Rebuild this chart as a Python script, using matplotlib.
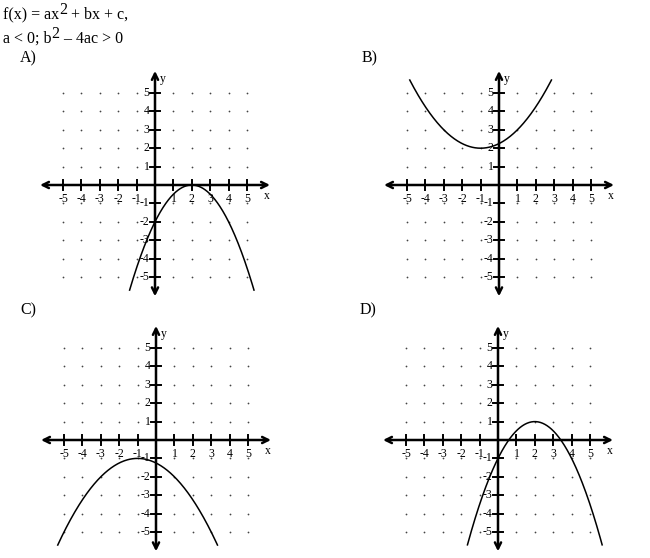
import numpy as np
import matplotlib
matplotlib.use('Agg')
import matplotlib.pyplot as plt

plt.rcParams['font.family'] = ['Liberation Serif', 'DejaVu Serif']

# panel data: parabola y = a*(x - h)^2 + k, drawn between x_start and x_end
panel_names = ['A)', 'B)', 'C)', 'D)']
coef_a = [-0.5, 0.25, -0.25, -0.5]
vertex_h = [2, -1, -1, 2]
vertex_k = [0, 2, -1, 1]
x_start = [-1.38, -4.85, -5.34, -1.66]
x_end = [5.38, 2.85, 3.34, 5.66]
tick_values = [-5, -4, -3, -2, -1, 1, 2, 3, 4, 5]

W, H = 650, 558
unit = 18.4  # pixels per unit
origins = [(155, 185), (499, 185), (156, 440), (498, 440)]
label_pos = [(20, 58), (362, 58), (20, 310), (360, 310)]
xlo, xhi, ylo, yhi = -7.0, 7.0, -6.6, 6.6
RAISE = 3.8  # points, for the superscript 2

fig = plt.figure(figsize=(W / 100, H / 100), dpi=100)


def chain(ax, x, y, parts, size=11.5):
    # draw text pieces one after another; raised pieces act as superscripts
    prev = fig.text(x / W, 1 - y / H, parts[0][0], fontsize=size, va='bottom')
    prev_up = False
    for txt, up in parts[1:]:
        dy = (RAISE if up else 0) - (RAISE if prev_up else 0)
        prev = ax.annotate(txt, xy=(1, 0), xycoords=prev,
                           xytext=(0, dy), textcoords='offset points',
                           fontsize=size, va='bottom', ha='left',
                           annotation_clip=False)
        prev_up = up


for i in range(4):
    ox, oy = origins[i]
    left = ox + xlo * unit
    top = oy - yhi * unit
    w = (xhi - xlo) * unit
    h = (yhi - ylo) * unit
    ax = fig.add_axes([left / W, 1 - (top + h) / H, w / W, h / H])
    ax.set_xlim(xlo, xhi)
    ax.set_ylim(ylo, yhi)
    ax.axis('off')

    # dotted grid
    gx, gy = np.meshgrid(tick_values, tick_values)
    ax.scatter(gx.ravel(), gy.ravel(), s=1.6, color='#444444', lw=0)

    # axes with arrows
    ax.annotate('', xy=(6.25, 0), xytext=(-6.25, 0),
                arrowprops=dict(arrowstyle='<->', lw=1.8, color='black',
                                mutation_scale=11, shrinkA=0, shrinkB=0))
    ax.annotate('', xy=(0, 6.2), xytext=(0, -6.05),
                arrowprops=dict(arrowstyle='<->', lw=1.8, color='black',
                                mutation_scale=11, shrinkA=0, shrinkB=0))
    for t in tick_values:
        ax.plot([t, t], [-0.28, 0.28], color='black', lw=1.4)
        ax.plot([-0.28, 0.28], [t, t], color='black', lw=1.4)
        ax.text(t, -0.78, str(t), fontsize=8.5, ha='center', va='center')
        ax.text(-0.3, t, str(t), fontsize=8.5, ha='right', va='center')
    ax.text(6.1, -0.6, 'x', fontsize=8.5, ha='center', va='center')
    ax.text(0.45, 5.75, 'y', fontsize=8.5, ha='center', va='center')

    # parabola
    xs = np.linspace(x_start[i], x_end[i], 300)
    ys = coef_a[i] * (xs - vertex_h[i]) ** 2 + vertex_k[i]
    ax.plot(xs, ys, color='black', lw=1.1)

    fig.text(label_pos[i][0] / W, 1 - label_pos[i][1] / H, panel_names[i],
             fontsize=11.5, va='center')

first_ax = fig.get_axes()[0]
chain(first_ax, 3, 23, [('f(x) = ax', False), ('2', True), (' + bx + c,', False)])
chain(first_ax, 3, 47, [('a < 0; b', False), ('2', True), (' \u2013 4ac > 0', False)])

fig.savefig('out.png', dpi=100)
